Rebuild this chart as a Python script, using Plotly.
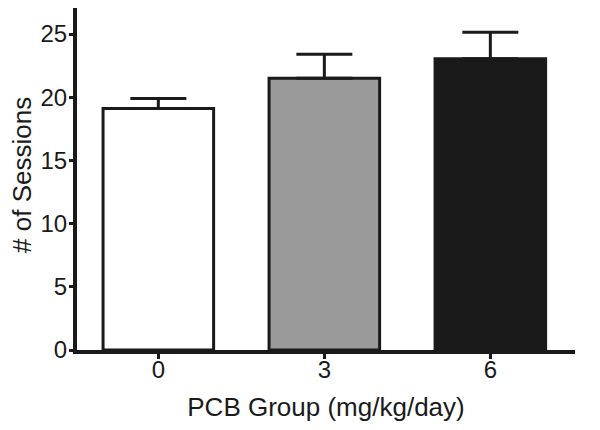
import plotly.graph_objects as go

categories = ["0", "3", "6"]
means = [19.1, 21.5, 23.05]
sem = [0.8, 1.9, 2.1]
colors = ["#ffffff", "#9a9a9a", "#1a1a1a"]

fig = go.Figure()
fig.add_trace(go.Bar(
    x=[0, 1, 2], y=means, width=0.666,
    marker=dict(color=colors, line=dict(color="#1a1a1a", width=3)),
    error_y=dict(type="data", array=sem, arrayminus=[0, 0, 0], symmetric=False,
                 color="#1a1a1a", thickness=3, width=28),
))

font = "Liberation Sans, Arial, sans-serif"
fig.update_layout(
    width=584, height=414,
    margin=dict(l=69, r=17, t=0, b=72),
    paper_bgcolor="white", plot_bgcolor="white",
    showlegend=False,
    font=dict(family=font, color="#1a1a1a", size=24),
    xaxis=dict(range=[-0.49, 2.51], tickmode="array", tickvals=[0, 1, 2], ticktext=categories,
               showline=True, linewidth=4, linecolor="#1a1a1a", showgrid=False, zeroline=False,
               ticks="outside", ticklen=5, tickwidth=3, tickcolor="#1a1a1a",
               ticklabelstandoff=-10,
               title=dict(text="PCB Group (mg/kg/day)", font=dict(size=26), standoff=18)),
    yaxis=dict(range=[0, 27.06], tickvals=[0, 5, 10, 15, 20, 25],
               showline=True, linewidth=4, linecolor="#1a1a1a", showgrid=False, zeroline=False,
               ticks="outside", ticklen=4, tickwidth=3, tickcolor="#1a1a1a",
               ticklabelstandoff=-3),
    annotations=[dict(text="# of Sessions", xref="paper", yref="paper",
                      x=(14 - 69) / 498, y=0.512, xanchor="center", yanchor="middle",
                      textangle=-90, showarrow=False, borderpad=0, font=dict(size=26))],
)
fig.write_html("out.html")
